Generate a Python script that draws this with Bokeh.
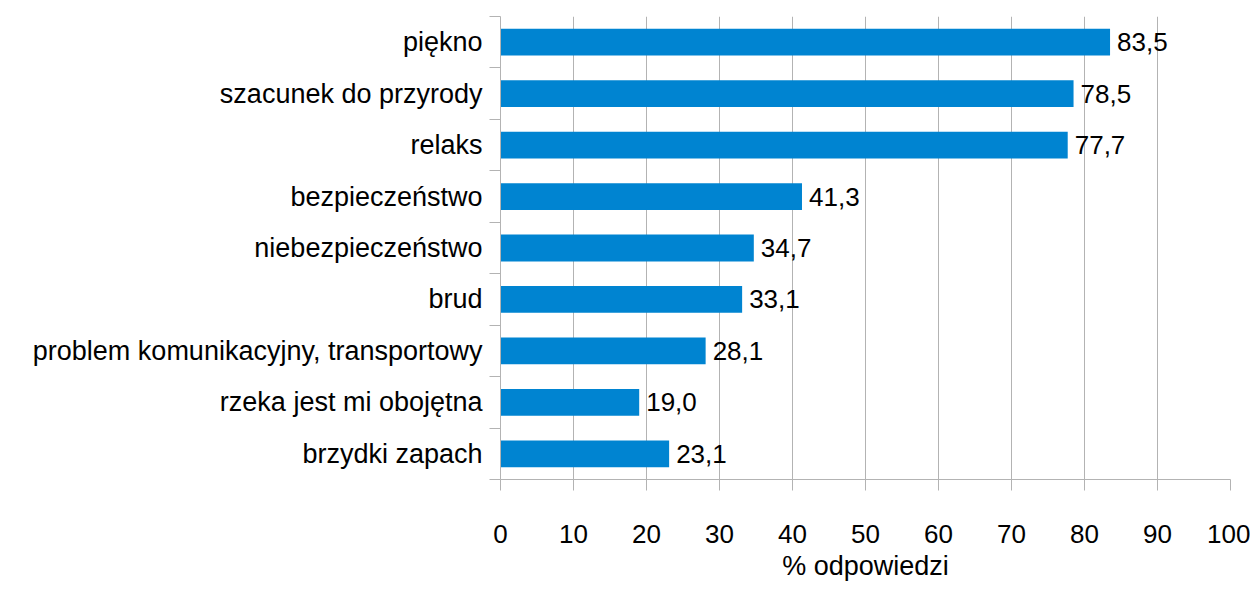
from bokeh.plotting import figure
from bokeh.models import Range1d, FixedTicker, ColumnDataSource
from bokeh.core.properties import value
from bokeh.embed import file_html
from bokeh.resources import INLINE

categories = [
    "piękno",
    "szacunek do przyrody",
    "relaks",
    "bezpieczeństwo",
    "niebezpieczeństwo",
    "brud",
    "problem komunikacyjny, transportowy",
    "rzeka jest mi obojętna",
    "brzydki zapach",
]
values = [83.5, 78.5, 77.7, 41.3, 34.7, 33.1, 28.1, 19.0, 23.1]
x_ticks = [0, 10, 20, 30, 40, 50, 60, 70, 80, 90, 100]
x_title = "% odpowiedzi"

FONT = "Liberation Sans"
FS = "26px"
GRID = "#b3b3b3"
BAR = "#0084d1"

pos = list(range(len(categories)))
labels = [f"{v:.1f}".replace(".", ",") for v in values]
src = ColumnDataSource(dict(y=pos, v=values, lab=labels))

p = figure(
    width=1250, height=589,
    output_backend="svg", toolbar_location=None,
    x_range=Range1d(0, 100),
    y_range=Range1d(len(categories) - 0.5, -0.5),
    min_border_left=500, min_border_right=20,
    min_border_top=16, min_border_bottom=110,
)
p.outline_line_color = None
p.background_fill_color = "white"

p.hbar(y="y", right="v", left=0, height=0.52, source=src,
       fill_color=BAR, line_color=None)
p.text(x="v", y="y", text="lab", source=src, x_offset=7,
       text_baseline="middle", text_align="left",
       text_font=value(FONT), text_font_size=FS, text_color="black")

# x axis
xa = p.xaxis[0]
xa.ticker = FixedTicker(ticks=x_ticks)
xa.major_tick_out = 11
xa.major_tick_in = 0
xa.minor_tick_out = 0
xa.minor_tick_in = 0
xa.major_tick_line_color = GRID
xa.axis_line_color = GRID
xa.major_label_text_font = FONT
xa.major_label_text_font_size = FS
xa.major_label_text_color = "black"
xa.major_label_standoff = 34
xa.axis_label = x_title
xa.axis_label_text_font = FONT
xa.axis_label_text_font_size = "27px"
xa.axis_label_text_font_style = "normal"
xa.axis_label_text_color = "black"
xa.axis_label_standoff = 5

# y axis
ya = p.yaxis[0]
ya.ticker = FixedTicker(ticks=pos, minor_ticks=[i - 0.5 for i in range(len(categories) + 1)])
ya.major_label_overrides = {i: c for i, c in enumerate(categories)}
ya.major_tick_out = 0
ya.major_tick_in = 0
ya.minor_tick_out = 11
ya.minor_tick_in = 0
ya.minor_tick_line_color = GRID
ya.axis_line_color = GRID
ya.major_label_text_font = FONT
ya.major_label_text_font_size = "27px"
ya.major_label_text_color = "black"
ya.major_label_standoff = 7

p.xgrid.ticker = FixedTicker(ticks=x_ticks)
p.xgrid.grid_line_color = GRID
p.ygrid.ticker = FixedTicker(ticks=[-0.5])
p.ygrid.grid_line_color = GRID

open("out.html", "w").write(file_html(p, INLINE))
